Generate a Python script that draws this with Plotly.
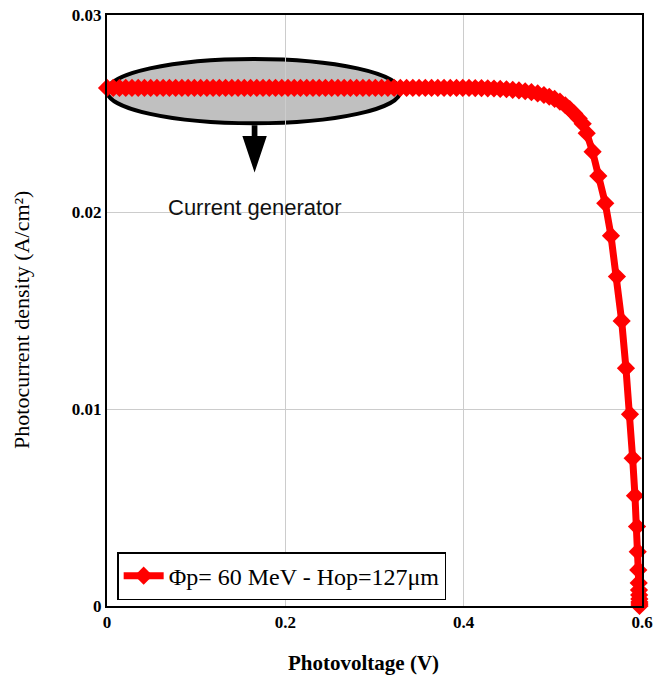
import plotly.graph_objects as go

# Photocurrent density vs photovoltage (J-V characteristic)
voltage = [
    0.000, 0.007, 0.014, 0.021, 0.028, 0.035, 0.042, 0.049, 0.056, 0.063,
    0.070, 0.077, 0.084, 0.091, 0.098, 0.105, 0.112, 0.119, 0.126, 0.133,
    0.140, 0.147, 0.154, 0.161, 0.168, 0.175, 0.182, 0.189, 0.196, 0.203,
    0.210, 0.217, 0.224, 0.231, 0.238, 0.245, 0.252, 0.259, 0.266, 0.273,
    0.280, 0.287, 0.294, 0.301, 0.308, 0.315, 0.322, 0.329, 0.336, 0.343,
    0.350, 0.357, 0.364, 0.371, 0.378, 0.385, 0.392, 0.399, 0.406, 0.413,
    0.420, 0.427, 0.434, 0.441, 0.448, 0.455, 0.462, 0.469, 0.476, 0.483,
    0.490, 0.496, 0.502, 0.508, 0.514, 0.519, 0.524, 0.529, 0.5335, 0.538,
    0.5446, 0.551, 0.5588, 0.5652, 0.5719, 0.5772, 0.582, 0.5865, 0.5895, 0.5921,
    0.5944, 0.5952, 0.5958, 0.5963, 0.5966, 0.5968, 0.5970, 0.5971, 0.5972, 0.5972,
]
current = [
    0.02630, 0.02630, 0.02630, 0.02630, 0.02630, 0.02630, 0.02630, 0.02630, 0.02630, 0.02630,
    0.02630, 0.02630, 0.02630, 0.02630, 0.02630, 0.02630, 0.02630, 0.02630, 0.02630, 0.02630,
    0.02630, 0.02630, 0.02630, 0.02630, 0.02630, 0.02630, 0.02630, 0.02630, 0.02630, 0.02630,
    0.02630, 0.02630, 0.02630, 0.02630, 0.02630, 0.02630, 0.02630, 0.02630, 0.02630, 0.02630,
    0.02630, 0.02630, 0.02630, 0.02630, 0.02630, 0.02630, 0.02630, 0.02630, 0.02630, 0.02630,
    0.02630, 0.02630, 0.02630, 0.02630, 0.02630, 0.02630, 0.02630, 0.02630, 0.02630, 0.02629,
    0.02629, 0.02628, 0.02627, 0.02625, 0.02623, 0.02620, 0.02617, 0.02613, 0.02608, 0.02602,
    0.02594, 0.02585, 0.02574, 0.02560, 0.02542, 0.02522, 0.02500, 0.02475, 0.02448, 0.02400,
    0.02306, 0.02183, 0.02044, 0.01880, 0.01672, 0.01447, 0.01207, 0.00973, 0.00750, 0.00560,
    0.00403, 0.00276, 0.00183, 0.00117, 0.00081, 0.00056, 0.00036, 0.00020, 0.00010, 0.00000,
]

x_ticks = [0, 0.2, 0.4, 0.6]
x_tick_labels = ["0", "0.2", "0.4", "0.6"]
y_ticks = [0, 0.01, 0.02, 0.03]
y_tick_labels = ["0", "0.01", "0.02", "0.03"]

series_name = "Φp= 60 MeV - Hop=127μm"
note_text = "Current generator"
x_title = "Photovoltage (V)"
y_title = "Photocurrent density (A/cm²)"

serif = "Liberation Serif"
sans = "Liberation Sans"

fig = go.Figure()

fig.add_trace(go.Scatter(
    x=voltage, y=current, name=series_name,
    mode="lines+markers",
    line=dict(color="#ff0000", width=7),
    marker=dict(symbol="diamond", size=14, color="#ff0000"),
    cliponaxis=False,
))

# Grey ellipse marking the current-generator (short-circuit) region
fig.add_shape(
    type="circle", xref="x", yref="y",
    x0=0.0, x1=0.329, y0=0.02450, y1=0.02777,
    fillcolor="#c0c0c0", line=dict(color="black", width=4),
    layer="below",
)
# Downward arrow below the ellipse
ax = 0.1655
fig.add_shape(
    type="path", xref="x", yref="y",
    path=(f"M {ax-0.0032},0.02440 L {ax+0.0032},0.02440 L {ax+0.0032},0.02386 "
          f"L {ax+0.0137},0.02386 L {ax},0.02200 L {ax-0.0137},0.02386 "
          f"L {ax-0.0032},0.02386 Z"),
    fillcolor="black", line=dict(color="black", width=0),
)

fig.add_annotation(
    x=0.1663, y=0.02025, xref="x", yref="y",
    text=note_text, showarrow=False,
    font=dict(family=sans, size=22, color="#111111"),
)

# Axis titles
fig.add_annotation(
    x=0.480, y=-0.097, xref="paper", yref="paper",
    xanchor="center", yanchor="middle",
    text=x_title, showarrow=False,
    font=dict(family=serif, size=21, color="black", weight="bold"),
)
fig.add_annotation(
    x=-0.159, y=0.484, xref="paper", yref="paper",
    xanchor="center", yanchor="middle", textangle=-90,
    text=y_title, showarrow=False,
    font=dict(family=serif, size=22, color="black"),
)

fig.update_layout(
    width=662, height=680,
    margin=dict(l=107, r=20, t=15, b=74),
    paper_bgcolor="white", plot_bgcolor="white",
    showlegend=True,
    legend=dict(
        x=0.019, y=0.010, xanchor="left", yanchor="bottom",
        bgcolor="white", bordercolor="black", borderwidth=1.5,
        font=dict(family=serif, size=24, color="black"),
        itemwidth=40, tracegroupgap=0,
    ),
    xaxis=dict(
        range=[0, 0.6], tickvals=x_ticks, ticktext=x_tick_labels,
        showgrid=True, gridcolor="#cccccc", gridwidth=1,
        showline=True, linecolor="black", linewidth=2, mirror=True,
        zeroline=False, ticks="", automargin=False,
        tickfont=dict(family=serif, size=17, color="black", weight="bold"),
    ),
    yaxis=dict(
        range=[0, 0.03], tickvals=y_ticks, ticktext=y_tick_labels,
        showgrid=True, gridcolor="#cccccc", gridwidth=1,
        showline=True, linecolor="black", linewidth=2, mirror=True,
        zeroline=False, ticks="", automargin=False,
        tickfont=dict(family=serif, size=17, color="black", weight="bold"),
    ),
)

fig.write_html("out.html")
